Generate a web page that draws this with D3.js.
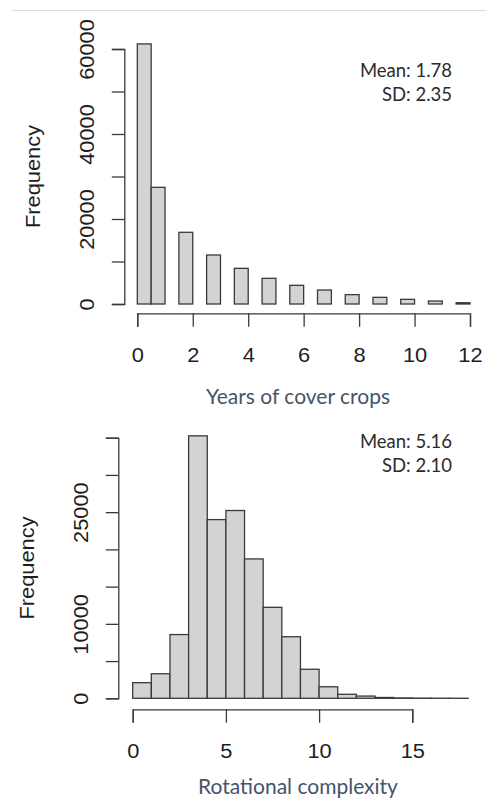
<!DOCTYPE html>
<html>
<head>
<meta charset="utf-8">
<script src="https://cdn.jsdelivr.net/npm/d3@7"></script>
<style>
    body { margin: 0; background: #ffffff; }
    .rule { stroke: #dadada; stroke-width: 1.2; }
    .bar { fill: #d3d3d3; stroke: #3a3a3a; stroke-width: 1.3; }
    .axis path, .axis line { stroke: #3a3a3a; stroke-width: 1.3; }
    .axis text, .ylabel {
        font-family: "Liberation Sans", Arial, sans-serif;
        font-size: 19.5px;
        fill: #1e1e1e;
    }
    .ylabel { text-anchor: middle; }
    .xtitle {
        font-family: Lato, "Open Sans", sans-serif;
        font-size: 21px;
        fill: #44546a;
        text-anchor: middle;
    }
    .stat {
        font-family: Lato, "Open Sans", sans-serif;
        font-size: 18.5px;
        fill: #2b2b2b;
        text-anchor: end;
    }
</style>
</head>
<body>
<script>
// Years of cover crops (bins in years)
const coverBinLo = [0, 0.5, 1.5, 2.5, 3.5, 4.5, 5.5, 6.5, 7.5, 8.5, 9.5, 10.5, 11.5];
const coverBinHi = [0.5, 1, 2, 3, 4, 5, 6, 7, 8, 9, 10, 11, 12];
const coverCounts = [61200, 27450, 16870, 11530, 8390, 6040, 4390, 3290, 2200, 1570, 1100, 700, 300];
const coverXTicks = [0, 2, 4, 6, 8, 10, 12];
const coverYTicks = [0, 10000, 20000, 30000, 40000, 50000, 60000];
const coverYLabels = [0, 20000, 40000, 60000];
const coverStats = ["Mean: 1.78", "SD: 2.35"];

// Rotational complexity
const rotBinLo = [0, 1, 2, 3, 4, 5, 6, 7, 8, 9, 10, 11, 12, 13, 14, 15, 16, 17];
const rotBinHi = [1, 2, 3, 4, 5, 6, 7, 8, 9, 10, 11, 12, 13, 14, 15, 16, 17, 18];
const rotCounts = [2100, 3300, 8560, 35250, 24000, 25220, 18720, 12220, 8270, 3900,
                   1550, 540, 300, 110, 50, 25, 12, 6];
const rotXTicks = [0, 5, 10, 15];
const rotYTicks = [0, 5000, 10000, 15000, 20000, 25000, 30000, 35000];
const rotYLabels = [0, 10000, 25000];
const rotStats = ["Mean: 5.16", "SD: 2.10"];

const W = 486, H = 802;
const STRETCH = 1.12;   // the R labels in the picture are drawn a bit wide

// placement of each panel, in page pixels
const DIMS = {
    top: {
        x: [137.3, 470], y: [304, 49],
        yAxisX: 124.3, xAxisY: 313.3,
        ylabX: 39.5, titleY: 404, statX: 452, statY: [77.3, 101]
    },
    bottom: {
        x: [132.7, 412.3], y: [698.3, 437.7],
        yAxisX: 118.3, xAxisY: 709.3,
        ylabX: 34, titleY: 794, statX: 452, statY: [448.3, 471.7]
    }
};

const svg = d3.select("body")
    .append("svg")
    .attr("width", W)
    .attr("height", H);

// thin grey rule across the top of the page
svg.append("line")
    .attr("class", "rule")
    .attr("x1", 12).attr("x2", W)
    .attr("y1", 10.5).attr("y2", 10.5);

function draw_hist(d, lo, hi, counts, xTicks, yTicks, yLabels, xDomainMax, yDomainMax, title, stats) {

    let x = d3.scaleLinear().domain([0, xDomainMax]).range(d.x),
        y = d3.scaleLinear().domain([0, yDomainMax]).range(d.y);

    let g = svg.append("g");

    // bars
    g.append("g")
        .selectAll("rect")
        .data(counts)
        .enter()
        .append("rect")
        .classed("bar", true)
        .attr("x", (c, i) => x(lo[i]))
        .attr("width", (c, i) => x(hi[i]) - x(lo[i]))
        .attr("y", c => y(c))
        .attr("height", c => y(0) - y(c));

    // x axis, R style: detached from the bars
    let xa = g.append("g")
        .attr("class", "axis")
        .attr("transform", "translate(0," + d.xAxisY + ")")
        .call(d3.axisBottom(x).tickValues(xTicks).tickSizeOuter(0).tickSize(13.5));

    xa.selectAll(".tick text")
        .attr("y", 48.5)
        .attr("dy", 0)
        .attr("transform", "scale(" + STRETCH + ",1)");

    // y axis with rotated labels, only some of them shown
    let ya = g.append("g")
        .attr("class", "axis")
        .attr("transform", "translate(" + d.yAxisX + ",0)")
        .call(d3.axisLeft(y).tickValues(yTicks).tickSizeOuter(0).tickSize(12.5)
            .tickFormat(v => yLabels.includes(v) ? String(v) : ""));

    ya.selectAll(".tick text")
        .attr("x", 0)
        .attr("dy", 0)
        .attr("text-anchor", "middle")
        .attr("transform", "translate(-30.3,0) rotate(-90) scale(" + STRETCH + ",1)");

    ya.select(".domain").attr("fill", "none");
    xa.select(".domain").attr("fill", "none");

    // ylabel
    g.append("text")
        .classed("ylabel", true)
        .attr("transform", "translate(" + d.ylabX + "," + (d.y[0] + d.y[1]) / 2 + ") rotate(-90) scale(" + STRETCH + ",1)")
        .text("Frequency");

    // axis title
    g.append("text")
        .classed("xtitle", true)
        .attr("x", 298)
        .attr("y", d.titleY)
        .text(title);

    // mean / sd
    g.selectAll(".stat")
        .data(stats)
        .enter()
        .append("text")
        .classed("stat", true)
        .attr("x", d.statX)
        .attr("y", (s, i) => d.statY[i])
        .text(s => s);
}

draw_hist(DIMS.top, coverBinLo, coverBinHi, coverCounts, coverXTicks, coverYTicks, coverYLabels,
    12, 60000, "Years of cover crops", coverStats);

draw_hist(DIMS.bottom, rotBinLo, rotBinHi, rotCounts, rotXTicks, rotYTicks, rotYLabels,
    15, 35000, "Rotational complexity", rotStats);
</script>
</body>
</html>
